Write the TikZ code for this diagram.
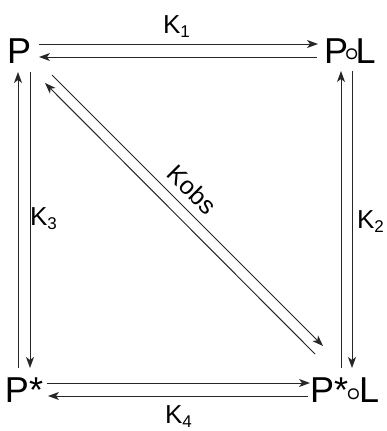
\documentclass[tikz,border=0pt]{standalone}
\usepackage{fontspec}
\setmainfont{Liberation Sans}
\usetikzlibrary{arrows.meta,calc}
\newcommand\ksub[2]{#1\raisebox{-4.5pt}{\fontsize{17}{17}\selectfont #2}}
\newcommand\ringsym[1]{\makebox[#1][c]{\raisebox{2pt}{\fontsize{25}{25}\selectfont\boldmath$\circ$}}}
\begin{document}
\begin{tikzpicture}[x=1pt,y=-1pt,
  every node/.style={inner sep=0pt,outer sep=0pt},
  big/.style={font=\fontsize{36}{36}\selectfont,anchor=base west},
  lbl/.style={font=\fontsize{26}{26}\selectfont,anchor=base west},
  arr/.style={line width=1pt,draw=black!85,-{Stealth[length=11pt,width=8pt,inset=3pt]}}]
\useasboundingbox (0,0) rectangle (387,431);
\node[big] (P) at (7,63) {P};
\node[big] (PL) at (324,63) {P\ringsym{7.5pt}L};
\node[big] (Ps) at (5,402) {P*};
\node[big] (PsL) at (310,402) {P*\ringsym{11pt}L};
\node[lbl] (k1) at (163,33) {\ksub{K}{1}};
\node[lbl] (k4) at (165,423) {\ksub{K}{4}};
\node[lbl] (k3) at (30,225) {\ksub{K}{3}};
\node[lbl] (k2) at (357,228) {\ksub{K}{2}};
% horizontal
\draw[arr] ([shift={(8,-19)}]P.base east) -- ([shift={(-6,-19)}]PL.base west);
\draw[arr] ([shift={(-7,-6)}]PL.base west) -- ([shift={(8,-6)}]P.base east);
\draw[arr] ([shift={(4,-19)}]Ps.base east) -- ([shift={(0,-19)}]PsL.base west);
\draw[arr] ([shift={(-2,-6)}]PsL.base west) -- ([shift={(5,-6)}]Ps.base east);
% vertical
\draw[arr] ([shift={(13,-34)}]Ps.base west) -- ([shift={(11,9)}]P.base west);
\draw[arr] ([shift={(23,9)}]P.base west) -- ([shift={(25,-34)}]Ps.base west);
\draw[arr] ([shift={(31,-34)}]PsL.base west) -- ([shift={(17,8)}]PL.base west);
\draw[arr] ([shift={(28,8)}]PL.base west) -- ([shift={(42,-34)}]PsL.base west);
% diagonal
\draw[arr] ([shift={(5,-48)}]PsL.base west) -- ([shift={(38,20)}]P.base west);
\draw[arr] ([shift={(45,12)}]P.base west) -- ([shift={(13,-56)}]PsL.base west)
  node[pos=0.47,sloped,above=9pt,font=\fontsize{25}{25}\selectfont] (kobs) {Kobs};
\end{tikzpicture}
\end{document}
